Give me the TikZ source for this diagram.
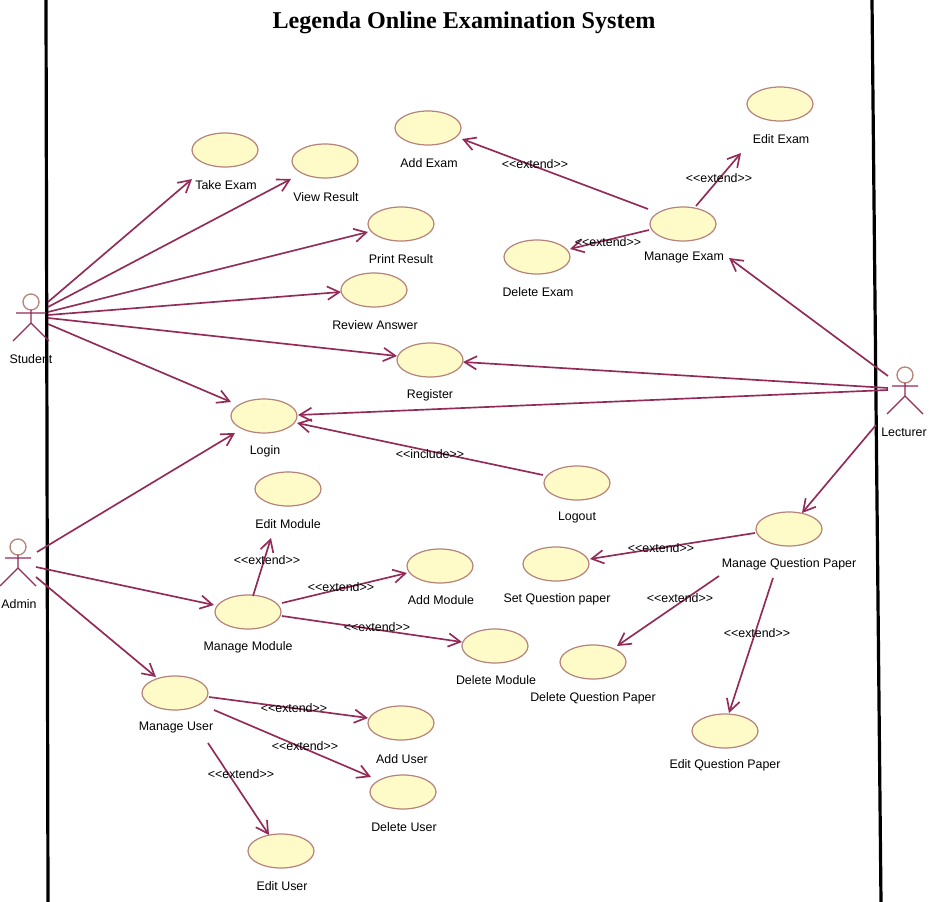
\documentclass[tikz,border=0pt]{standalone}
\usepackage{fontspec}
\setmainfont{Liberation Sans}
\newfontfamily\titlefont{Liberation Serif}
\usetikzlibrary{shapes.geometric,arrows.meta}
\definecolor{umlline}{HTML}{922B58}
\definecolor{umlfill}{HTML}{FFFBC9}
\definecolor{umledge}{HTML}{B5837A}
\tikzset{
  x=0.75pt,y=-0.75pt,
  usecase/.style={ellipse,draw=umledge,fill=umlfill,line width=0.9pt,inner sep=0pt,minimum width=49.5pt,minimum height=25.5pt},
  lbl/.style={font=\fontsize{9.3}{11}\selectfont,text=black,inner sep=0pt,yshift=-0.75pt},
  assoc/.style={draw=umlline,line width=1.25pt,-{Straight Barb[length=9pt,width=10pt]}},
  boundary/.style={draw=black,line width=2.4pt},
  actorline/.style={draw=umlline,line width=1pt},
  actorhead/.style={draw=umledge,line width=1pt,fill=white},
  anchorbox/.style={inner sep=0pt,outer sep=0pt}
}
\newcommand{\actorfig}[3]{%
  \draw[actorhead] (#1,#2) circle[radius=6pt];
  \draw[actorline] (#1,#2+8) -- (#1,#2+21) (#1-#3,#2+11) -- (#1+#3,#2+11)
    (#1-18,#2+39) -- (#1,#2+21) -- (#1+18,#2+39);}
\newcommand{\conn}[6]{\draw[assoc] ([shift={(#2,#3)}]#1.center) -- ([shift={(#5,#6)}]#4.center);}
\begin{document}
\begin{tikzpicture}
\useasboundingbox (0,0) rectangle (933,902);
\fill[white] (0,0) rectangle (933,902);
\draw[boundary] (46,0) -- (48,902);
\draw[boundary] (872,0) -- (881,902);
\node[font=\titlefont\bfseries\fontsize{18.1}{22}\selectfont,inner sep=0pt] (title) at (464,23) {Legenda Online Examination System};

% actors
\actorfig{31}{302}{15}
\actorfig{18}{547}{13}
\actorfig{905}{375}{13}
\node[anchorbox] (student) at (31,320) {};
\node[anchorbox] (admin) at (18,563) {};
\node[anchorbox] (lecturer) at (905,390) {};
\node[lbl] (studentl) at (31,358) {Student};
\node[lbl] (adminl) at (19,603) {Admin};
\node[lbl] (lecturerl) at (904,431) {Lecturer};

% use cases
\node[usecase] (takeexam) at (225,150) {};
\node[usecase] (viewresult) at (325,161) {};
\node[usecase] (printresult) at (401,224) {};
\node[usecase] (review) at (374,290) {};
\node[usecase] (register) at (430,360) {};
\node[usecase] (login) at (264,416) {};
\node[usecase] (addexam) at (428,128) {};
\node[usecase] (editexam) at (780,104) {};
\node[usecase] (manageexam) at (683,224) {};
\node[usecase] (deleteexam) at (537,257) {};
\node[usecase] (logout) at (577,483) {};
\node[usecase] (editmodule) at (288,489) {};
\node[usecase] (managemodule) at (248,612) {};
\node[usecase] (addmodule) at (440,566) {};
\node[usecase] (deletemodule) at (495,646) {};
\node[usecase] (manageuser) at (175,693) {};
\node[usecase] (adduser) at (401,723) {};
\node[usecase] (deleteuser) at (403,792) {};
\node[usecase] (edituser) at (281,851) {};
\node[usecase] (setqp) at (556,564) {};
\node[usecase] (manageqp) at (789,529) {};
\node[usecase] (deleteqp) at (593,662) {};
\node[usecase] (editqp) at (725,731) {};

% connectors
\conn{student}{17}{-18}{takeexam}{-33}{29}
\conn{student}{17}{-13}{viewresult}{-34}{18}
\conn{student}{17}{-8}{printresult}{-33}{8}
\conn{student}{17}{-5}{review}{-33}{2}
\conn{student}{17}{-2}{register}{-33}{-4}
\conn{student}{17}{4}{login}{-33}{-14}
\conn{admin}{19}{-11}{login}{-29}{17}
\conn{admin}{18}{4}{managemodule}{-34}{-7}
\conn{admin}{18}{14}{manageuser}{-19}{-16}
\conn{lecturer}{-17}{-14}{manageexam}{46}{34}
\conn{lecturer}{-17}{-2}{register}{33}{2}
\conn{lecturer}{-17}{0}{login}{34}{-1}
\conn{lecturer}{-29}{35}{manageqp}{13}{-16}
\conn{logout}{-34}{-8}{login}{33}{7}
\conn{manageexam}{-35}{-15}{addexam}{34}{11}
\conn{manageexam}{13}{-18}{editexam}{-39}{49}
\conn{manageexam}{-34}{6}{deleteexam}{33}{-8}
\conn{managemodule}{5}{-16}{editmodule}{-17}{49}
\conn{managemodule}{34}{-9}{addmodule}{-33}{7}
\conn{managemodule}{34}{4}{deletemodule}{-33}{-4}
\conn{manageuser}{34}{4}{adduser}{-33}{-5}
\conn{manageuser}{39}{17}{deleteuser}{-32}{-15}
\conn{manageuser}{33}{50}{edituser}{-12}{-16}
\conn{manageqp}{-34}{4}{setqp}{34}{-5}
\conn{manageqp}{-70}{47}{deleteqp}{24}{-16}
\conn{manageqp}{-16}{49}{editqp}{4}{-18}

% use case labels
\node[lbl] (l1) at (226,184) {Take Exam};
\node[lbl] (l2) at (326,196) {View Result};
\node[lbl] (l3) at (401,258) {Print Result};
\node[lbl] (l4) at (375,324) {Review Answer};
\node[lbl] (l5) at (430,394) {Register};
\node[lbl] (l6) at (265,450) {Login};
\node[lbl] (l7) at (429,162) {Add Exam};
\node[lbl] (l8) at (781,138) {Edit Exam};
\node[lbl] (l9) at (684,257) {Manage Exam};
\node[lbl] (l10) at (538,291) {Delete Exam};
\node[lbl] (l11) at (577,517) {Logout};
\node[lbl] (l12) at (288,523) {Edit Module};
\node[lbl] (l13) at (248,646) {Manage Module};
\node[lbl] (l14) at (441,599) {Add Module};
\node[lbl] (l15) at (496,679) {Delete Module};
\node[lbl] (l16) at (176,727) {Manage User};
\node[lbl] (l17) at (402,758) {Add User};
\node[lbl] (l18) at (404,826) {Delete User};
\node[lbl] (l19) at (282,885) {Edit User};
\node[lbl] (l20) at (557,598) {Set Question paper};
\node[lbl] (l21) at (789,563) {Manage Question Paper};
\node[lbl] (l22) at (593,697) {Delete Question Paper};
\node[lbl] (l23) at (725,764) {Edit Question Paper};

% stereotypes
\node[lbl] (s1) at (535,163) {<{}<extend>{}>};
\node[lbl] (s2) at (719,177) {<{}<extend>{}>};
\node[lbl] (s3) at (608,241) {<{}<extend>{}>};
\node[lbl] (s4) at (430,453) {<{}<include>{}>};
\node[lbl] (s5) at (267,559) {<{}<extend>{}>};
\node[lbl] (s6) at (341,586) {<{}<extend>{}>};
\node[lbl] (s7) at (377,626) {<{}<extend>{}>};
\node[lbl] (s8) at (294,707) {<{}<extend>{}>};
\node[lbl] (s9) at (305,745) {<{}<extend>{}>};
\node[lbl] (s10) at (241,773) {<{}<extend>{}>};
\node[lbl] (s11) at (661,547) {<{}<extend>{}>};
\node[lbl] (s12) at (680,597) {<{}<extend>{}>};
\node[lbl] (s13) at (757,632) {<{}<extend>{}>};
\end{tikzpicture}
\end{document}
